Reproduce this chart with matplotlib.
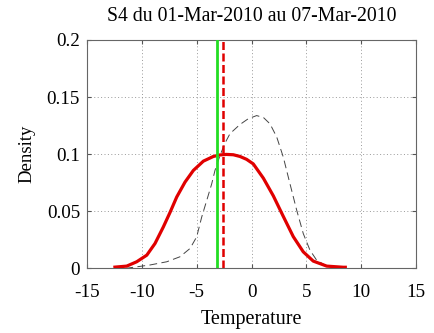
import matplotlib
matplotlib.use("Agg")
import matplotlib.pyplot as plt

# densité de la semaine (trait rouge)
week_x = [-12.6, -11.38, -10.47, -9.55, -8.8, -8.04, -7.43, -6.82, -6.06, -5.3, -4.39,
          -3.48, -2.9, -2.3, -1.66, -1.05, -0.45, 0.16, 1.08, 1.99, 2.9, 3.81, 4.72,
          5.63, 6.86, 8.37, 8.7]
week_y = [0.001, 0.002, 0.0058, 0.0116, 0.0218, 0.0363, 0.049, 0.0625, 0.0756, 0.0858, 0.0939,
          0.098, 0.0993, 0.0998, 0.0995, 0.098, 0.0955, 0.0915, 0.079, 0.0635, 0.0455, 0.0278, 0.0145,
          0.0064, 0.002, 0.001, 0.001]

# densité climatologique (tirets noirs)
clim_x = [-11.5, -9.25, -7.73, -6.52, -5.6, -5.0, -4.54, -4.08, -3.63, -3.33, -2.87,
          -2.4, -1.96, -1.05, -0.3, 0.47, 1.1, 1.69, 2.3, 2.9, 3.51, 4.12, 4.72, 5.33,
          5.94, 6.86, 8.0]
clim_y = [0.0, 0.003, 0.0058, 0.0102, 0.0175, 0.0276, 0.045, 0.0596, 0.074, 0.0858, 0.099,
          0.110, 0.118, 0.126, 0.131, 0.1338, 0.132, 0.1265, 0.115, 0.0974, 0.074, 0.051, 0.0305, 0.016,
          0.0072, 0.002, 0.0]

obs_value = -3.17     # ligne verte
week_mean = -2.63     # tirets rouges

title = "S4 du 01-Mar-2010 au 07-Mar-2010"
x_ticks = [-15, -10, -5, 0, 5, 10, 15]
y_ticks = [0, 0.05, 0.1, 0.15, 0.2]
y_labels = ["0", "0.05", "0.1", "0.15", "0.2"]

plt.rcParams["font.family"] = ["Liberation Serif", "DejaVu Serif"]

fig = plt.figure(figsize=(4.34, 3.33), dpi=100)
ax = fig.add_axes([0.2005, 0.194, 0.758, 0.686])

ax.plot(clim_x, clim_y, color="#444444", linestyle=(0, (8, 4.5)), linewidth=0.7, zorder=3)
ax.plot(week_x, week_y, color="#e00000", linewidth=2.3, zorder=4,
        solid_capstyle="butt", solid_joinstyle="round")
ax.plot([obs_value, obs_value], [0, 0.2], color="#22dd22", linewidth=2.0, zorder=5)
ax.plot([week_mean, week_mean], [0, 0.2], color="#e00000", linewidth=1.8,
        linestyle=(0, (3.2, 1.4)), zorder=5)

ax.set_xlim(-15, 15)
ax.set_ylim(0, 0.2)
ax.set_xticks(x_ticks)
ax.set_xticklabels([str(v) for v in x_ticks])
ax.set_yticks(y_ticks)
ax.set_yticklabels(y_labels)
ax.grid(True, color="#999999", linestyle=(0, (1, 2.5)), linewidth=0.7)
ax.tick_params(direction="in", top=True, right=True, length=3, labelsize=13.8,
               color="#555555")
ax.tick_params(axis="x", pad=11)
ax.tick_params(axis="y", pad=5)
for spine in ax.spines.values():
    spine.set_color("#666666")
    spine.set_linewidth(0.8)

ax.set_xlabel("Temperature", fontsize=14.5, labelpad=7)
ax.set_ylabel("Density", fontsize=13.5, labelpad=8)
ax.set_title(title, fontsize=14.2, pad=14)

fig.savefig("out.png", dpi=100)
